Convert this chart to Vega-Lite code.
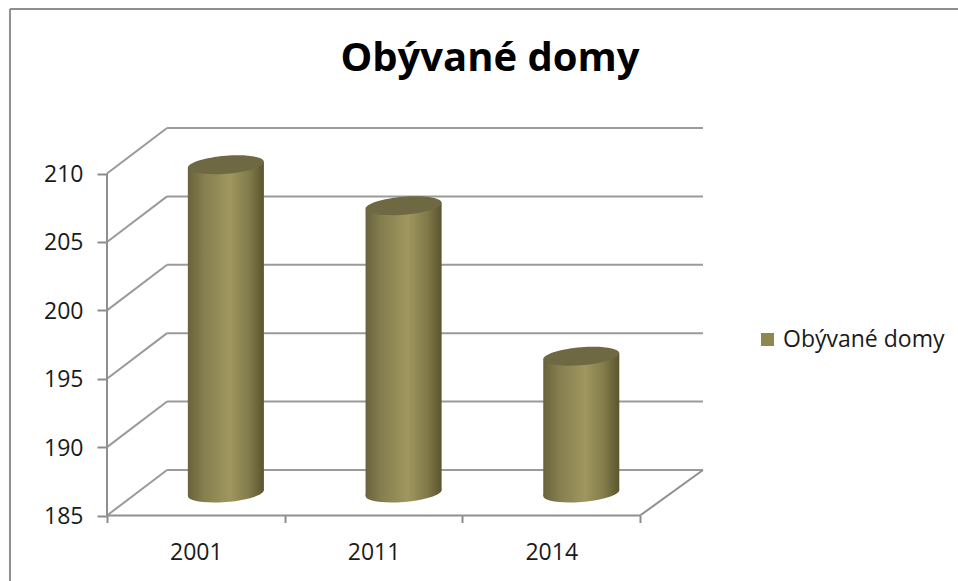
{
"$schema":"https://vega.github.io/schema/vega-lite/v6.json",
"width":596,"height":387.5,
"autosize":{"type":"none"},
"padding":{"left":107,"top":128,"right":255,"bottom":65.5},
"background":"white",
"config":{"view":{"stroke":null},"font":"Open Sans"},
"title":{"text":"Obývané domy","anchor":"middle","frame":"group","dx":85,"dy":71,"offset":0,"font":"Open Sans","fontWeight":"bold","fontSize":40,"color":"#000000"},
"datasets":{
"bars":[{"year":"2001","value":209,"series":"Obývané domy","i":0},{"year":"2011","value":206,"series":"Obývané domy","i":1},{"year":"2014","value":195,"series":"Obývané domy","i":2}],
"grid":[{"v":185},{"v":190},{"v":195},{"v":200},{"v":205},{"v":210}],
"segments":[
{"x":-0.546,"x2":4.79,"y":222.03,"y2":222.03,"part":"frame"},
{"x":-0.546,"x2":-0.546,"y":222.03,"y2":180.21,"part":"frame"},
{"x":3,"x2":3.354,"y":185,"y2":188.33,"part":"floor"},
{"x":0,"x2":0,"y":185,"y2":210,"part":"axis"},
{"x":0,"x2":3,"y":185,"y2":185,"part":"axis"}
]},
"layer":[
{"data":{"name":"grid"},"transform":[{"calculate":"datum.v+3.33","as":"vb"},{"calculate":"0.338","as":"xb"},{"calculate":"3.354","as":"xe"}],
 "mark":{"type":"rule","color":"#9a9a9a","strokeWidth":2},
 "encoding":{
  "x":{"field":"xb","type":"quantitative","scale":{"domain":[0,3.354],"nice":false,"zero":false},
   "axis":{"title":null,"grid":false,"domain":false,"values":[0,0.5,1,1.5,2,2.5,3],"labelExpr":"datum.value==0.5?'2001':datum.value==1.5?'2011':datum.value==2.5?'2014':''","labelOverlap":false,"labelFlush":false,"tickSize":7,"tickWidth":2,"tickColor":"#8c8c8c","tickOpacity":{"expr":"datum.value%1==0?1:0"},"labelFont":"Open Sans","labelFontSize":23,"labelColor":"#1a1a1a","labelPadding":19}},
  "x2":{"field":"xe"},
  "y":{"field":"vb","type":"quantitative","scale":{"domain":[185,213.33],"nice":false,"zero":false},
   "axis":{"title":null,"grid":false,"domain":false,"values":[185,190,195,200,205,210],"tickSize":10,"tickWidth":2,"tickColor":"#8c8c8c","labelFont":"Open Sans","labelFontSize":23,"labelColor":"#1a1a1a","labelPadding":14,"labelOffset":1}}
 }},
{"data":{"name":"grid"},"transform":[{"calculate":"datum.v+3.33","as":"vb"},{"calculate":"0","as":"xa"},{"calculate":"0.338","as":"xb"}],
 "mark":{"type":"rule","color":"#9a9a9a","strokeWidth":2},
 "encoding":{
  "x":{"field":"xa","type":"quantitative","scale":{"domain":[0,3.354],"nice":false,"zero":false},"axis":{"title":null}},
  "x2":{"field":"xb"},
  "y":{"field":"v","type":"quantitative","scale":{"domain":[185,213.33],"nice":false,"zero":false},"axis":{"title":null}},
  "y2":{"field":"vb"}
 }},
{"data":{"name":"segments"},
 "mark":{"type":"rule","color":"#8f8f8f","strokeWidth":2},
 "encoding":{
  "x":{"field":"x","type":"quantitative","scale":{"domain":[0,3.354],"nice":false,"zero":false},"axis":{"title":null}},
  "x2":{"field":"x2"},
  "y":{"field":"y","type":"quantitative","scale":{"domain":[185,213.33],"nice":false,"zero":false},"axis":{"title":null}},
  "y2":{"field":"y2"}
 }},
{"data":{"name":"bars"},"transform":[{"calculate":"datum.i+0.669","as":"c"},{"calculate":"190","as":"yc"}],
 "mark":{"type":"square","size":100,"opacity":1},
 "encoding":{
  "x":{"field":"c","type":"quantitative","scale":{"domain":[0,3.354],"nice":false,"zero":false},"axis":{"title":null}},
  "y":{"field":"yc","type":"quantitative","scale":{"domain":[185,213.33],"nice":false,"zero":false},"axis":{"title":null}},
  "color":{"field":"series","type":"nominal","scale":{"range":["#8f8650"]},
   "legend":{"title":null,"orient":"none","legendX":649,"legendY":200,"symbolType":"square","symbolSize":169,"symbolStrokeWidth":0,"symbolOpacity":1,"labelFont":"Open Sans","labelFontSize":23,"labelColor":"#1a1a1a","labelOffset":4,"labelLimit":400,"padding":0}}
 }},
{"data":{"name":"bars"},"transform":[{"calculate":"datum.i+0.669","as":"c"},{"calculate":"186.64","as":"b"}],
 "mark":{"type":"point","filled":true,"opacity":1,"size":5776,"stroke":null,"shape":"M-1 0.08C-1 -0.051 -0.552 -0.193 0 -0.237C0.552 -0.281 1 -0.211 1 -0.08C1 0.051 0.552 0.193 0 0.237C-0.552 0.281 -1 0.211 -1 0.08Z",
  "fill":{"x1":0,"y1":0,"x2":1,"y2":0,"gradient":"linear","stops":[{"offset":0,"color":"#68633c"},{"offset":0.2,"color":"#847d4e"},{"offset":0.55,"color":"#a0975e"},{"offset":0.8,"color":"#827b4b"},{"offset":1,"color":"#5a552f"}]}},
 "encoding":{
  "x":{"field":"c","type":"quantitative","scale":{"domain":[0,3.354],"nice":false,"zero":false},"axis":{"title":null}},
  "y":{"field":"b","type":"quantitative","scale":{"domain":[185,213.33],"nice":false,"zero":false},"axis":{"title":null}}
 }},
{"data":{"name":"bars"},"transform":[{"calculate":"[-1,1]","as":"side"},{"flatten":["side"]},{"calculate":"datum.i+0.669+datum.side*0.214","as":"xe"},{"calculate":"datum.value+1.64+datum.side*0.22","as":"yt"},{"calculate":"186.64+datum.side*0.22","as":"yb"}],
 "mark":{"type":"area","opacity":1,"line":false,
  "fill":{"x1":0,"y1":0,"x2":1,"y2":0,"gradient":"linear","stops":[{"offset":0,"color":"#68633c"},{"offset":0.2,"color":"#847d4e"},{"offset":0.55,"color":"#a0975e"},{"offset":0.8,"color":"#827b4b"},{"offset":1,"color":"#5a552f"}]}},
 "encoding":{
  "x":{"field":"xe","type":"quantitative","scale":{"domain":[0,3.354],"nice":false,"zero":false},"axis":{"title":null}},
  "y":{"field":"yt","type":"quantitative","stack":null,"scale":{"domain":[185,213.33],"nice":false,"zero":false},"axis":{"title":null}},
  "y2":{"field":"yb"},
  "detail":{"field":"year"}
 }},
{"data":{"name":"bars"},"transform":[{"calculate":"datum.i+0.669","as":"c"},{"calculate":"datum.value+1.64","as":"top"}],
 "mark":{"type":"point","filled":true,"opacity":1,"size":5776,"stroke":null,"fill":"#6e6943","shape":"M-1 0.08C-1 -0.051 -0.552 -0.193 0 -0.237C0.552 -0.281 1 -0.211 1 -0.08C1 0.051 0.552 0.193 0 0.237C-0.552 0.281 -1 0.211 -1 0.08Z"},
 "encoding":{
  "x":{"field":"c","type":"quantitative","scale":{"domain":[0,3.354],"nice":false,"zero":false},"axis":{"title":null}},
  "y":{"field":"top","type":"quantitative","scale":{"domain":[185,213.33],"nice":false,"zero":false},"axis":{"title":null}}
 }}
]
}
